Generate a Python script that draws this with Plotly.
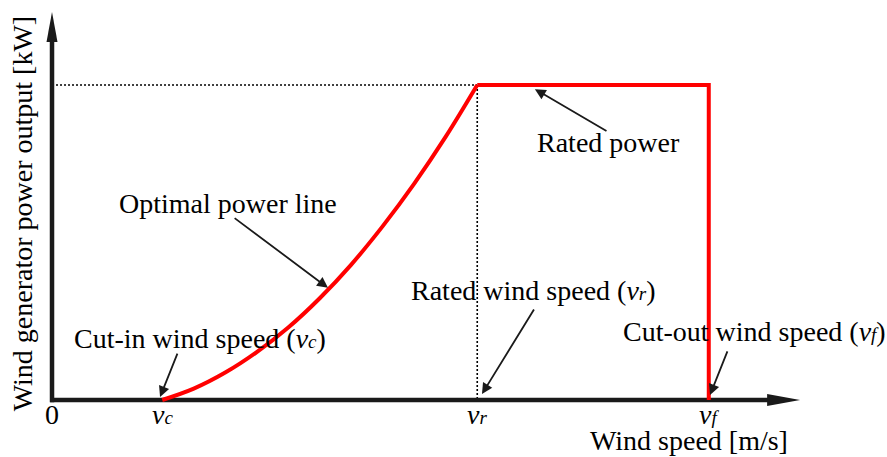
import plotly.graph_objects as go

# ---------------- data ----------------
V_CUT_IN = 3.5      # v_c
V_RATED = 13.5      # v_r
V_CUT_OUT = 20.85   # v_f
P_RATED = 1.0       # rated power (normalised)

curve_wind_speed = [3.5, 4.5, 5.5, 6.5, 7.5, 8.5, 9.5, 10.5, 11.5, 12.5, 13.5]
curve_power = [0.0, 0.036, 0.087, 0.152, 0.230, 0.323, 0.430, 0.552, 0.687, 0.836, 1.0]

rated_wind_speed = [V_RATED, V_CUT_OUT, V_CUT_OUT]
rated_power = [P_RATED, P_RATED, 0.0]

SUB = '<span style="font-size:19px"><i>{}</i></span>'
tick_vals = [0, V_CUT_IN, V_RATED, V_CUT_OUT]
tick_text = ["0", "<i>v</i>" + SUB.format("c"), "<i>v</i>" + SUB.format("r"), "<i>v</i>" + SUB.format("f")]

X_AXIS_END = 23.75
Y_AXIS_END = 1.232

FONT = "Liberation Serif, Times New Roman, serif"
FS = 28
AXIS_COLOR = "#1a1a1a"

fig = go.Figure()

# dotted guides
fig.add_trace(go.Scatter(x=[0, V_RATED], y=[P_RATED, P_RATED], mode="lines",
                         line=dict(color="black", width=1.6, dash="2px,2px"),
                         hoverinfo="skip", showlegend=False))
fig.add_trace(go.Scatter(x=[V_RATED, V_RATED], y=[P_RATED, 0], mode="lines",
                         line=dict(color="black", width=1.6, dash="2px,2px"),
                         hoverinfo="skip", showlegend=False))

# axes lines
ARROW_BACK_X = 0.8
ARROW_BACK_Y = 0.08
fig.add_trace(go.Scatter(x=[-0.06, X_AXIS_END - ARROW_BACK_X], y=[0, 0], mode="lines",
                         line=dict(color=AXIS_COLOR, width=4.5),
                         hoverinfo="skip", showlegend=False))
fig.add_trace(go.Scatter(x=[0, 0], y=[-0.007, Y_AXIS_END - ARROW_BACK_Y], mode="lines",
                         line=dict(color=AXIS_COLOR, width=4.5),
                         hoverinfo="skip", showlegend=False))

# power curve: optimal power line + rated power + cut-out
fig.add_trace(go.Scatter(x=curve_wind_speed, y=curve_power,
                         mode="lines", line=dict(color="#ff0000", width=4, shape="spline", smoothing=1.0),
                         hoverinfo="skip", showlegend=False))
fig.add_trace(go.Scatter(x=rated_wind_speed, y=rated_power,
                         mode="lines", line=dict(color="#ff0000", width=4),
                         hoverinfo="skip", showlegend=False))

shapes = [
    dict(type="path", xref="x", yref="y", xsizemode="pixel", ysizemode="pixel",
         xanchor=X_AXIS_END, yanchor=0, path="M 0 0 L -33 6 L -33 -6 Z",
         fillcolor=AXIS_COLOR, line=dict(width=0)),
    dict(type="path", xref="x", yref="y", xsizemode="pixel", ysizemode="pixel",
         xanchor=0, yanchor=Y_AXIS_END, path="M 0 0 L -5.5 -30 L 5.5 -30 Z",
         fillcolor=AXIS_COLOR, line=dict(width=0)),
]

annotations = []
# tick labels
for v, t in zip(tick_vals, tick_text):
    annotations.append(dict(x=v, y=-0.045, xref="x", yref="y", text=t, showarrow=False,
                            font=dict(family=FONT, size=FS, color="black"),
                            xanchor="center", yanchor="middle"))

# axis titles
annotations.append(dict(x=20.22, y=-0.13, xref="x", yref="y", text="Wind speed [m/s]",
                        showarrow=False, font=dict(family=FONT, size=FS, color="black"),
                        xanchor="center", yanchor="middle"))
annotations.append(dict(x=-0.95, y=0.59, xref="x", yref="y",
                        text="Wind generator power output [kW]", textangle=-90,
                        showarrow=False, font=dict(family=FONT, size=FS, color="black"),
                        xanchor="center", yanchor="middle"))

# labels with pointer arrows: (text, text x, text y, tip x, tip y, tail x, tail y)
labels = [
    ("Optimal power line", 5.59, 0.625, 8.76, 0.356, 5.75, 0.581),
    ("Rated power", 17.68, 0.819, 15.33, 0.987, 17.65, 0.851),
    ("Rated wind speed (<i>v</i>" + SUB.format("r") + ")", 15.3, 0.349, 13.65, 0.019, 15.33, 0.292),
    ("Cut-in wind speed (<i>v</i>" + SUB.format("c") + ")", 4.70, 0.194, 3.43, 0.0095, 4.0, 0.152),
    ("Cut-out wind speed (<i>v</i>" + SUB.format("f") + ")", 22.3, 0.219, 20.89, 0.016, 21.46, 0.159),
]
for text, tx, ty, hx, hy, ax, ay in labels:
    annotations.append(dict(x=tx, y=ty, xref="x", yref="y", text=text, showarrow=False,
                            font=dict(family=FONT, size=FS, color="black"),
                            xanchor="center", yanchor="middle"))
    annotations.append(dict(x=hx, y=hy, ax=ax, ay=ay, xref="x", yref="y", axref="x", ayref="y",
                            text="", showarrow=True, arrowhead=2, arrowsize=1.2, arrowwidth=1.8,
                            arrowcolor="#1a1a1a", standoff=0, startstandoff=0))

fig.update_layout(
    width=887, height=457,
    margin=dict(l=0, r=0, t=0, b=0),
    paper_bgcolor="white", plot_bgcolor="white",
    xaxis=dict(range=[-1.651, 26.508], visible=False, fixedrange=True),
    yaxis=dict(range=[-0.181, 1.270], visible=False, fixedrange=True),
    shapes=shapes, annotations=annotations, showlegend=False,
)

fig.write_html("out.html", config={"displayModeBar": False},
               post_script="document.body.style.margin='0px';document.body.style.overflow='hidden';")
